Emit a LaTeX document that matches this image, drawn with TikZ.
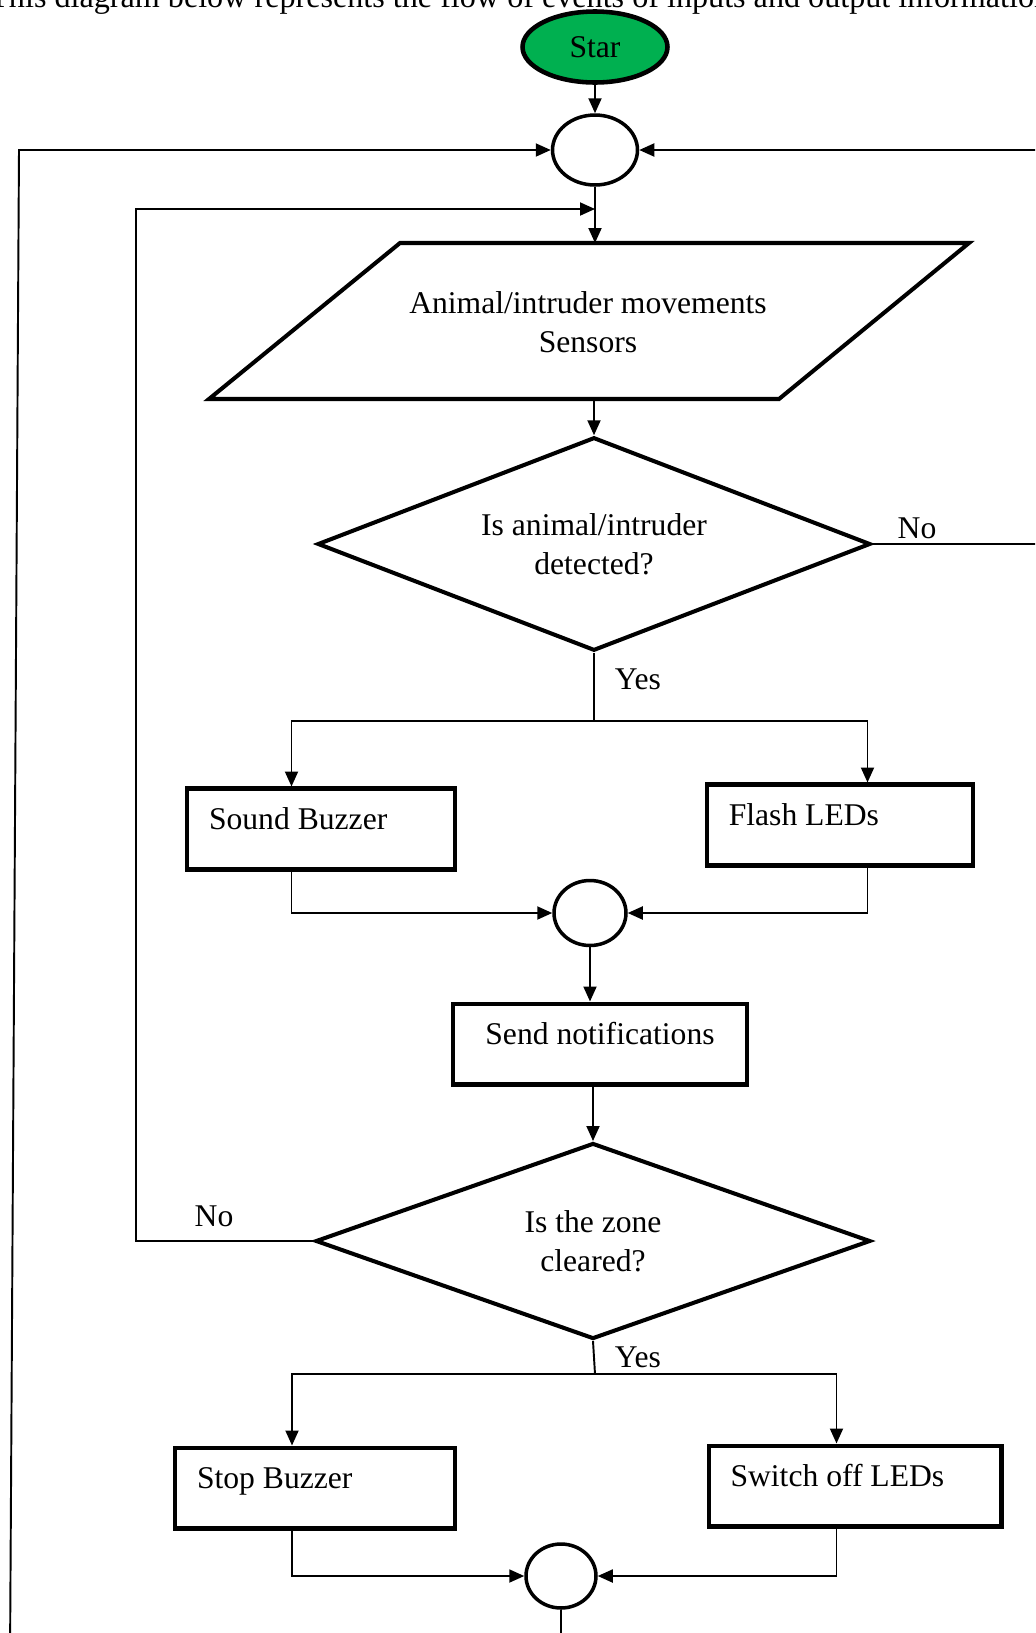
\documentclass[tikz,border=0pt]{standalone}
\usepackage{fontspec}
\setmainfont{Liberation Serif}
\usetikzlibrary{shapes.geometric,arrows.meta}
\definecolor{startgreen}{RGB}{0,176,80}
\tikzset{
	link/.style={line width=1.1pt},
	flow/.style={link,-{Triangle[length=0.3cm,width=0.26cm]}},
	outline/.style={draw,line width=2.3pt},
	startnode/.style={outline,ellipse,fill=startgreen,line width=2.6pt,minimum width=2.9cm,minimum height=1.42cm,inner sep=0pt},
	junction/.style={draw,ellipse,line width=2pt,inner sep=0pt},
	decision/.style={outline,diamond,align=center,inner sep=0pt},
	action/.style={outline,rectangle,minimum height=1.62cm,text height=0.4cm,text depth=0.4cm,inner xsep=0.44cm},
	leftbox/.style={action,text width=#1,align=flush left},
}
\begin{document}
\begin{tikzpicture}[x=0.02cm,y=-0.02cm,font=\fontsize{18}{22}\selectfont]
				\useasboundingbox (0,0) rectangle (1035,1633);
				\clip (0,0) rectangle (1035,1633);
				% heading line, cut at the top of the page
				\node[anchor=base west,inner sep=0pt,font=\fontsize{18.3}{22}\selectfont] (title) at (-11,7) {This diagram below represents the flow of events of inputs and output information};
				\node[startnode] (start) at (595,47) {Star};
				\node[junction,minimum width=1.7cm,minimum height=1.4cm] (j1) at (595,150) {};
				% input
				\draw[outline] (400,243) -- (969,243) -- (779,399) -- (209,399) -- cycle;
				\coordinate (inTop) at (595,243);
				\coordinate (inBot) at (594,399);
				\node[align=center] (sensors) at (588,322) {Animal/intruder movements\\Sensors};
				\node[decision,shape aspect=2.6,minimum width=11.06cm,minimum height=4.27cm] (d1) at (594,544) {Is animal/intruder\\detected?};
				\node[leftbox=4.48cm] (sound) at (321,829) {Sound Buzzer};
				\node[leftbox=4.45cm] (flash) at (840,825) {Flash LEDs};
				\node[junction,minimum width=1.44cm,minimum height=1.3cm] (j2) at (590,913) {};
				\node[action,minimum width=5.9cm] (send) at (600,1044) {Send notifications};
				\node[decision,shape aspect=2.83,minimum width=11.1cm,minimum height=3.92cm] (d2) at (593,1241) {Is the zone\\cleared?};
				\node[leftbox=4.72cm] (stop) at (315,1488) {Stop Buzzer};
				\node[leftbox=4.98cm] (switch) at (855,1486) {Switch off LEDs};
				\node[junction,minimum width=1.4cm,minimum height=1.28cm] (j3) at (561,1576) {};
				% labels
				\node (no1) at (917,528) {No};
				\node (yes1) at (638,679) {Yes};
				\node (no2) at (214,1216) {No};
				\node (yes2) at (638,1357) {Yes};
				% loose ends
				\coordinate (outerL) at (10,1660);
				\coordinate (outerLtop) at (19,150);
				\coordinate (outerR) at (1060,150);
				\coordinate (noR) at (1060,544);
				\coordinate (innerIn) at (595,209);
				\coordinate (split1) at (594,721);
				\coordinate (split2) at (595,1374);
				\coordinate (outB) at (561,1660);
				% connectors
				\draw[flow] (start) -- (j1);
				\draw[flow] (outerL) -- (outerLtop) -- (j1.west);
				\draw[flow] (outerR) -- (j1.east);
				\draw[flow] (j1) -- (inTop);
				\draw[flow] (d2.west) -| (136,209) -- (innerIn);
				\draw[flow] (inBot) -- (d1.north);
				\draw[link] (d1.east) -- (d1.east -| noR);
				\draw[link] (d1.south) -- (split1);
				\draw[flow] (split1) -| ([xshift=-0.59cm]sound.north);
				\draw[flow] (split1) -| ([xshift=0.55cm]flash.north);
				\draw[flow] ([xshift=-0.59cm]sound.south) |- (j2.west);
				\draw[flow] ([xshift=0.55cm]flash.south) |- (j2.east);
				\draw[flow] (j2) -- (j2 |- send.north);
				\draw[flow] (send.south -| d2.north) -- (d2.north);
				\draw[link] (d2.south) -- (split2);
				\draw[flow] (split2) -| ([xshift=-0.46cm]stop.north);
				\draw[flow] (split2) -| ([xshift=-0.37cm]switch.north);
				\draw[flow] ([xshift=-0.46cm]stop.south) |- (j3.west);
				\draw[flow] ([xshift=-0.37cm]switch.south) |- (j3.east);
				\draw[link] (j3) -- (outB);
\end{tikzpicture}
\end{document}
